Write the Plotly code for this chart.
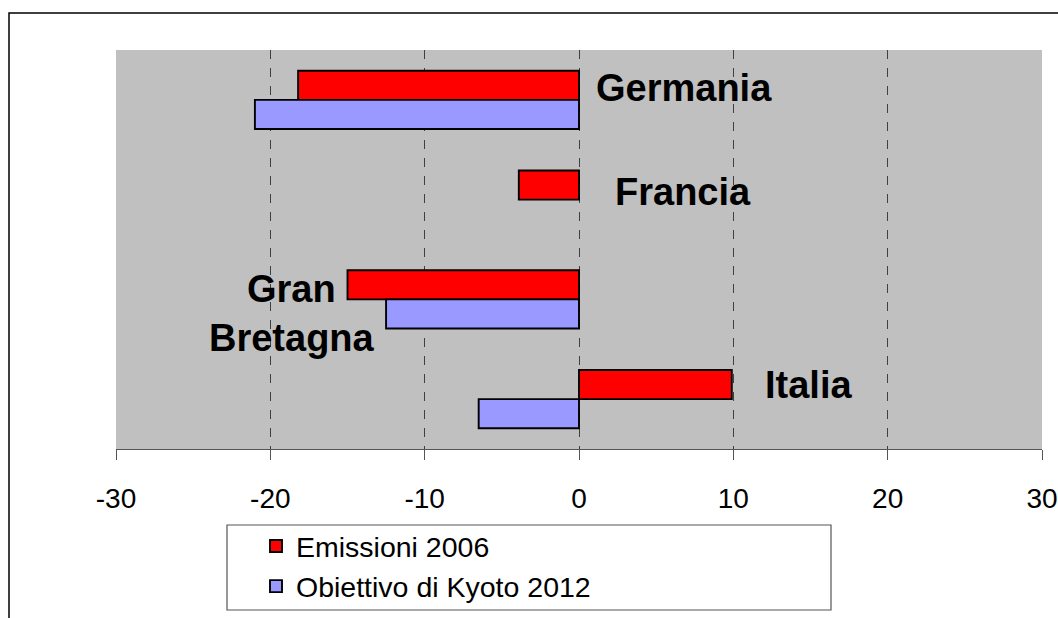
import plotly.graph_objects as go

countries = ["Germania", "Francia", "Gran Bretagna", "Italia"]
emissioni_2006 = [-18.2, -3.9, -15.0, 9.9]
obiettivo_kyoto = [-21.0, 0.0, -12.5, -6.5]
tick_vals = [-30, -20, -10, 0, 10, 20, 30]
label_texts = ["Germania", "Francia", "Gran<br>Bretagna", "Italia"]

W, H = 1058, 618
L, R, T, B = 116, 16, 50, 169
pw = W - L - R
ph = H - T - B


def outline_widths(vals):
    return [0 if v == 0 else 1.9 for v in vals]


fig = go.Figure()
fig.add_trace(go.Bar(
    y=countries, x=emissioni_2006, orientation="h", name="Emissioni 2006",
    marker=dict(color="#FF0000", line=dict(color="#000000", width=outline_widths(emissioni_2006))),
    legendgroup="a",
))
fig.add_trace(go.Bar(
    y=countries, x=obiettivo_kyoto, orientation="h", name="Obiettivo di Kyoto 2012",
    marker=dict(color="#9999FF", line=dict(color="#000000", width=outline_widths(obiettivo_kyoto))),
    legendgroup="b",
))

# country labels
lab_font = dict(family="Liberation Sans, Arial, sans-serif", size=38, color="#000000")
label_x = [1.0, 2.2, -18.6, 11.95]
label_anchor = ["left", "left", "center", "left"]
label_shift = [12, 8, -14, 14]
for c, t, lx, la, ls in zip(countries, label_texts, label_x, label_anchor, label_shift):
    fig.add_annotation(x=lx, y=c, xref="x", yref="y", text="<b>" + t + "</b>",
                       showarrow=False, xanchor=la, yanchor="middle", yshift=ls,
                       font=lab_font, align="center")

# outer frame of the chart object
fig.add_shape(type="rect", xref="paper", yref="paper",
              x0=(9 - L) / pw, x1=(W + 20 - L) / pw,
              y0=-(H + 20 - T - ph) / ph, y1=(T + ph - 13) / ph,
              line=dict(color="#000000", width=1.5), fillcolor="rgba(0,0,0,0)", layer="below")

# legend frame
fig.add_shape(type="rect", xref="paper", yref="paper",
              x0=(227 - L) / pw, x1=(831 - L) / pw,
              y0=-(610 - T - ph) / ph, y1=-(525 - T - ph) / ph,
              line=dict(color="#555555", width=1.2), fillcolor="#FFFFFF", layer="below")

fig.update_layout(
    width=W, height=H,
    margin=dict(l=L, r=R, t=T, b=B, pad=0, autoexpand=False),
    paper_bgcolor="#FFFFFF",
    plot_bgcolor="#C0C0C0",
    barmode="group",
    bargap=0.415,
    bargroupgap=0,
    font=dict(family="Liberation Sans, Arial, sans-serif", color="#000000"),
    xaxis=dict(
        range=[-30, 30], tickmode="array", tickvals=tick_vals,
        ticktext=[str(v) for v in tick_vals],
        showgrid=True, gridcolor="#404040", griddash="dash", gridwidth=1,
        zeroline=False,
        showline=True, linecolor="#555555", linewidth=1.2,
        ticks="outside", ticklen=10, tickcolor="#555555", tickwidth=1.2,
        tickfont=dict(size=28, color="#000000"),
        ticklabelstandoff=14,
        automargin=False,
        fixedrange=True,
    ),
    yaxis=dict(
        categoryorder="array", categoryarray=countries, autorange="reversed",
        showticklabels=False, showgrid=False, zeroline=False, showline=False,
        ticks="", fixedrange=True, automargin=False,
    ),
    showlegend=True,
    legend=dict(
        x=(256 - L) / pw, y=-(521 - T - ph) / ph, xanchor="left", yanchor="top",
        bgcolor="rgba(0,0,0,0)", borderwidth=0,
        font=dict(size=28.5, color="#000000"),
        tracegroupgap=10, traceorder="normal",
    ),
)

fig.write_html("out.html",
               config={"displayModeBar": False},
               post_script="document.body.style.margin='0';document.body.style.overflow='hidden';")
